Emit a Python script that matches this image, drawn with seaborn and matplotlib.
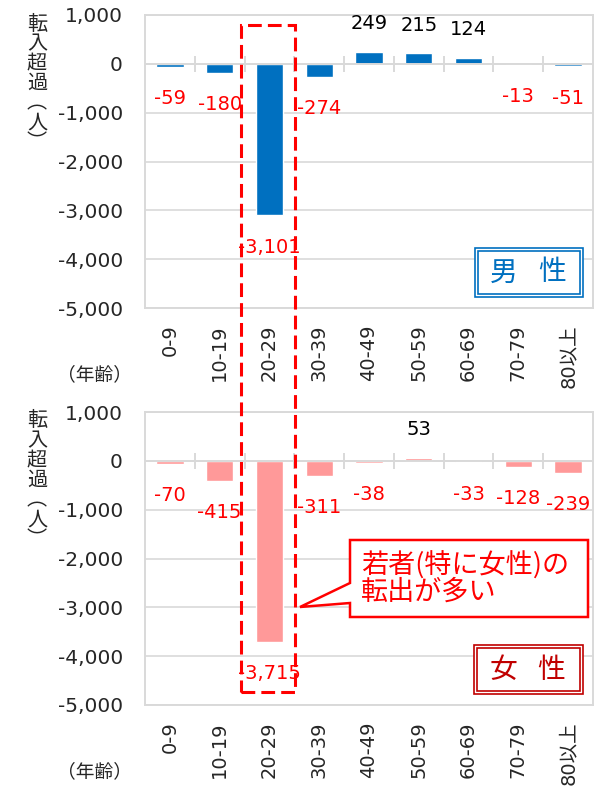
import numpy as np
import pandas as pd
import matplotlib
matplotlib.use('Agg')
import matplotlib.pyplot as plt
import seaborn as sns
from matplotlib.patches import Rectangle, Polygon

# net migration by age group (persons)
ages = ['0-9', '10-19', '20-29', '30-39', '40-49', '50-59', '60-69', '70-79', '80以上']
male = [-59, -180, -3101, -274, 249, 215, 124, -13, -51]
female = [-70, -415, -3715, -311, -38, 53, -33, -128, -239]
y_ticks = [1000, 0, -1000, -2000, -3000, -4000, -5000]
ylabel_chars = ['転', '入', '超', '過', '︵', '人', '︶']

W, H = 598, 787
JP = ['Noto Sans CJK JP', 'DejaVu Sans']
GRID = '#D9D9D9'


def px(x, y):
    # figure pixel (from top-left) -> figure fraction
    return x / W, 1 - y / H


def draw_panel(ax, values, color):
    df = pd.DataFrame({'age': ages, 'value': values})
    sns.barplot(data=df, x='age', y='value', color=color, width=0.55,
                saturation=1, ax=ax, zorder=2)
    ax.set_ylim(-5000, 1000)
    ax.set_xlim(-0.5, len(ages) - 0.5)
    ax.set_yticks(y_ticks)
    ax.set_yticklabels([f'{v:,}' for v in y_ticks])
    ax.yaxis.grid(True, color=GRID, lw=1.2)
    ax.set_axisbelow(True)
    ax.tick_params(axis='y', length=0, pad=16, labelsize=14.5)
    ax.tick_params(axis='x', length=0, pad=12, labelsize=14, rotation=90)
    ax.set_xlabel('')
    ax.set_ylabel('')
    for s in ax.spines.values():
        s.set_visible(True)
        s.set_color(GRID)
        s.set_linewidth(1.4)
    ax.axhline(0, color=GRID, lw=1.4, zorder=3)
    ax.vlines(np.arange(0.5, len(ages) - 0.5, 1), -160, 160, color=GRID, lw=1.4, zorder=3)
    for i, v in enumerate(values):
        if v < 0:
            ax.text(i, v - 650, f'{v:,}', ha='center', va='center', fontsize=14, color='#FF0000', zorder=4)
        else:
            ax.text(i, v + 580, f'{v:,}', ha='center', va='center', fontsize=14, color='black', zorder=4)


def side_labels(fig, top):
    for k, c in enumerate(ylabel_chars):
        x, y = px(37, top + 9 + k * 19.8)
        fig.text(x, y, c, ha='center', va='center', fontsize=14.5, family=JP)
    x, y = px(95, top + 360)
    fig.text(x, y, '（年齢）', ha='center', va='center', fontsize=13.5, family=JP)


def legend_box(fig, x0, y0, x1, y1, text, color):
    for inset in (0, 3):
        l, b = px(x0 + inset, y1 - inset)
        fig.add_artist(Rectangle((l, b), (x1 - x0 - 2 * inset) / W, (y1 - y0 - 2 * inset) / H,
                                 transform=fig.transFigure, fill=True, fc='white',
                                 ec=color, lw=1.2, zorder=5))
    cy = (y0 + y1) / 2
    for ch, cx in zip(text, (x0 + 29, x0 + 77)):
        x, y = px(cx, cy)
        fig.text(x, y, ch, ha='center', va='center', fontsize=20, color=color, family=JP, zorder=6)


sns.set_style('white')
plt.rcParams['font.family'] = ['DejaVu Sans', 'Noto Sans CJK JP']

fig = plt.figure(figsize=(W / 100, H / 100), dpi=100)
ax1 = fig.add_axes([145 / W, 1 - 308 / H, 448 / W, 293 / H])
ax2 = fig.add_axes([145 / W, 1 - 705 / H, 448 / W, 293 / H])

draw_panel(ax1, male, '#0070C0')
draw_panel(ax2, female, '#FF9999')
side_labels(fig, 15)
side_labels(fig, 412)

legend_box(fig, 475, 248, 583, 297, '男性', '#0070C0')
legend_box(fig, 474, 645, 583, 694, '女性', '#C00000')

# dashed highlight around 20-29
l, b = px(241, 692)
fig.add_artist(Rectangle((l, b), 54 / W, 667 / H, transform=fig.transFigure, fill=False,
                         ec='#FF0000', lw=2.2, ls=(0, (4.5, 2)), zorder=5))

# callout
pts = [(350, 540), (588, 540), (588, 617), (350, 617), (350, 603), (300, 607), (350, 583)]
fig.add_artist(Polygon([px(*p) for p in pts], closed=True, transform=fig.transFigure,
                       fc='white', ec='#FF0000', lw=1.8, zorder=6))
x, y = px(361, 579)
fig.text(x, y, '若者(特に女性)の\n転出が多い', ha='left', va='center', fontsize=19.5,
         color='#FF0000', family=JP, linespacing=0.95, zorder=7)

fig.savefig('out.png', dpi=100)
